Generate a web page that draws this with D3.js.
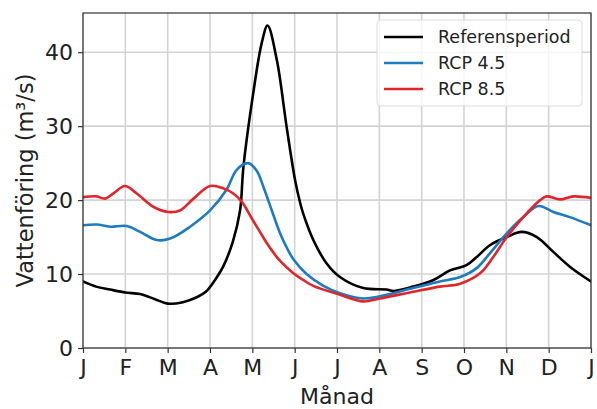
<!DOCTYPE html>
<html>
<head>
<meta charset="utf-8">
<script src="https://cdn.jsdelivr.net/npm/d3@7"></script>
<style>
  html, body { margin: 0; padding: 0; background: #fff; }
  svg { display: block; font-family: "DejaVu Sans", sans-serif; }
</style>
</head>
<body>
<svg id="chart" width="597" height="409"></svg>
<script>
// ---- data (x in months from 1 Jan, 0..12) ----
const monthLabels = ["J","F","M","A","M","J","J","A","S","O","N","D","J"];
const yTicks = [0, 10, 20, 30, 40];
const seriesNames = ["Referensperiod", "RCP 4.5", "RCP 8.5"];

const refX = [0,0.31,0.64,1.0,1.35,1.7,2.0,2.36,2.7,2.9,3.07,3.31,3.54,3.71,3.79,4.02,4.22,4.36,4.58,4.81,5.01,5.13,5.2,5.44,5.76,6.07,6.62,7.17,7.33,7.8,8.28,8.67,9.06,9.3,9.61,10.01,10.36,10.72,11.11,11.5,12];
const refY = [9.0,8.3,7.9,7.5,7.3,6.6,6.0,6.2,6.9,7.6,8.8,11.0,14.4,18.6,24.5,34.4,41.2,43.6,38.9,29.9,22.7,19.6,18.2,14.6,11.4,9.6,8.1,7.9,7.7,8.3,9.2,10.5,11.2,12.3,13.9,15.0,15.7,15.0,13.0,11.0,9.0];

const rcp45X = [0,0.32,0.64,1.03,1.35,1.74,2.06,2.53,3.0,3.39,3.63,3.9,4.1,4.28,4.46,4.65,4.82,4.97,5.28,5.68,6.07,6.62,7.02,7.8,8.43,8.91,9.3,9.61,10.01,10.4,10.76,11.11,11.5,12];
const rcp45Y = [16.6,16.7,16.4,16.5,15.7,14.6,14.8,16.4,18.6,21.4,24.1,25.0,24.0,21.5,18.6,15.6,13.5,12.0,10.0,8.4,7.4,6.7,7.0,8.1,9.0,9.6,10.8,12.8,15.5,17.7,19.2,18.4,17.7,16.6];

const rcp85X = [0,0.32,0.52,0.72,0.99,1.27,1.66,2.02,2.29,2.61,3.0,3.31,3.55,3.75,4.0,4.18,4.34,4.5,4.65,4.97,5.2,5.44,6.07,6.62,7.02,7.8,8.43,8.91,9.38,9.69,10.01,10.4,10.8,10.95,11.27,11.58,12];
const rcp85Y = [20.4,20.5,20.2,20.9,21.9,20.9,19.1,18.4,18.6,20.2,21.9,21.6,20.9,19.8,17.4,15.7,14.2,12.9,11.8,10.1,9.2,8.4,7.2,6.3,6.7,7.6,8.3,8.7,10.1,12.3,15.0,17.7,20.0,20.5,20.1,20.5,20.3];

const colors = ["#000000", "#1f7bc1", "#e0262b"];

// ---- layout ----
const svg = d3.select("#chart");
const L = 83, R = 591, T = 13, B = 348;
const x = d3.scaleLinear().domain([0, 12]).range([L, R]);
const y = d3.scaleLinear().domain([0, 45.3]).range([B, T]);

svg.append("defs").append("clipPath").attr("id", "clip")
  .append("rect").attr("x", L).attr("y", T).attr("width", R - L).attr("height", B - T);

// grid
const grid = svg.append("g");
grid.selectAll("line.vx").data(d3.range(0, 13)).join("line")
  .attr("x1", d => x(d)).attr("x2", d => x(d)).attr("y1", T).attr("y2", B)
  .attr("stroke", "#d3d3d3").attr("stroke-width", 1.6);
grid.selectAll("line.hy").data(yTicks).join("line")
  .attr("x1", L).attr("x2", R).attr("y1", d => y(d)).attr("y2", d => y(d))
  .attr("stroke", "#d3d3d3").attr("stroke-width", 1.6);

// lines
const line = d3.line().x(d => x(d[0])).y(d => y(d[1])).curve(d3.curveCatmullRom.alpha(0.5));
const series = [d3.zip(refX, refY), d3.zip(rcp45X, rcp45Y), d3.zip(rcp85X, rcp85Y)];
const lg = svg.append("g").attr("clip-path", "url(#clip)");
series.forEach((s, i) => {
  lg.append("path").datum(s).attr("d", line)
    .attr("fill", "none").attr("stroke", colors[i]).attr("stroke-width", 2.6)
    .attr("stroke-linejoin", "round").attr("stroke-linecap", "round");
});

// axes
const xAxis = d3.axisBottom(x).tickValues(d3.range(0, 13)).tickFormat((d, i) => monthLabels[i])
  .tickSize(5).tickPadding(6);
const yAxis = d3.axisLeft(y).tickValues(yTicks).tickSize(5).tickPadding(5);

const gx = svg.append("g").attr("transform", `translate(0,${B})`).call(xAxis);
const gy = svg.append("g").attr("transform", `translate(${L},0)`).call(yAxis);
[gx, gy].forEach(g => {
  g.select(".domain").remove();
  g.selectAll(".tick line").attr("stroke", "#333").attr("stroke-width", 1.2);
  g.selectAll(".tick text").attr("fill", "#222").style("font-size", "22px")
    .style("font-family", "'DejaVu Sans', sans-serif");
});

// frame
svg.append("rect").attr("x", L).attr("y", T).attr("width", R - L).attr("height", B - T)
  .attr("fill", "none").attr("stroke", "#333").attr("stroke-width", 1.2);

// axis labels
svg.append("text").attr("x", (L + R) / 2).attr("y", 404).attr("text-anchor", "middle")
  .style("font-size", "22px").attr("fill", "#222").text("Månad");
svg.append("text").attr("transform", `translate(33,${(T + B) / 2}) rotate(-90)`)
  .attr("text-anchor", "middle").style("font-size", "22.5px").attr("fill", "#222")
  .text("Vattenföring (m³/s)");

// legend
const leg = svg.append("g");
leg.append("rect").attr("x", 377).attr("y", 20).attr("width", 205).attr("height", 86)
  .attr("rx", 4).attr("fill", "rgba(255,255,255,0.8)").attr("stroke", "#dcdcdc").attr("stroke-width", 1);
seriesNames.forEach((name, i) => {
  const yy = 37 + i * 26;
  leg.append("line").attr("x1", 384).attr("x2", 423).attr("y1", yy).attr("y2", yy)
    .attr("stroke", colors[i]).attr("stroke-width", 2.6);
  leg.append("text").attr("x", 438).attr("y", yy).attr("dy", "0.35em")
    .style("font-size", "17.5px").attr("fill", "#222").text(name);
});
</script>
</body>
</html>
